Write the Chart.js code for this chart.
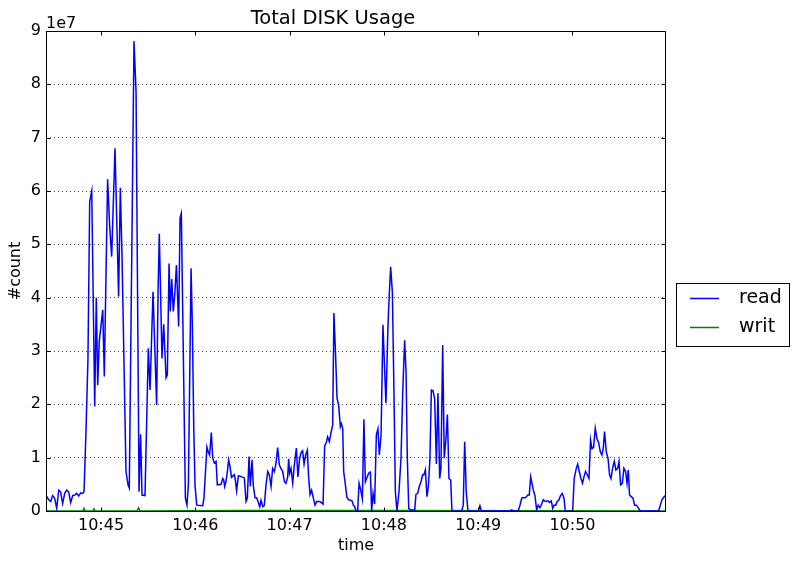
<!DOCTYPE html>
<html>
<head>
<meta charset="utf-8">
<title>Total DISK Usage</title>
<script src="https://cdn.jsdelivr.net/npm/chart.js@4.4.1/dist/chart.umd.min.js"></script>
<style>
    html, body { margin: 0; padding: 0; background: #fff; }
    #wrap { width: 799px; height: 564px; }
</style>
</head>
<body>
<div id="wrap"><canvas id="disk-chart" width="799" height="564"></canvas></div>
<script>
// Times are seconds after 10:44:00, values are in units of 1e7 counts
const readTimes = [
    25.0, 26.7, 28.0, 29.2, 30.5, 31.8, 33.1, 34.3, 35.6, 36.9, 38.2, 39.4, 40.7, 42.0, 43.3, 44.5, 45.8, 47.1, 48.3, 49.2,
    50.5, 51.7, 52.8, 54.1, 56.0, 57.0, 57.9, 58.9, 61.1, 62.1, 64.2, 65.5, 66.8, 68.9, 71.2, 72.3, 73.4, 75.9, 77.2, 78.0,
    81.0, 82.3, 84.2, 85.2, 86.1, 88.0, 90.1, 91.2, 93.1, 95.4, 96.3, 97.1, 98.8, 99.9, 101.4, 102.2,
    103.3, 104.1, 105.0, 106.0, 106.9, 108.0, 109.4, 110.3, 111.1, 113.7, 114.7, 115.6, 117.3, 118.1, 119.0, 119.8, 120.9,
    124.7, 125.5, 127.4, 128.3, 129.1, 130.2, 131.1, 132.1, 133.2, 134.0, 136.4, 137.4, 138.1, 138.7, 139.5, 140.4, 141.2,
    142.1, 143.0, 144.8, 145.5, 146.3, 147.4, 149.7, 151.2, 152.3, 153.1, 154.2, 155.0, 156.1, 156.9, 158.0, 159.0, 159.9,
    161.0, 161.8, 162.9, 163.9, 165.0, 166.1, 167.1, 168.2, 169.2, 170.3, 171.4, 172.4, 173.5, 174.5, 175.6, 176.7, 177.7,
    178.8, 179.4,
    180.0, 180.9, 182.0, 183.0, 184.3, 185.3, 186.4, 187.5, 188.3, 189.2, 190.2, 191.3, 192.1, 193.0, 194.0, 195.1, 196.2,
    197.2, 199.3, 201.3, 202.3, 203.4, 204.2, 205.3, 206.3, 207.4, 208.2, 209.1, 210.2, 211.2, 212.3, 212.9, 213.8, 214.4,
    215.5, 216.5, 217.6, 219.7, 220.6, 221.4, 222.3, 223.3, 224.2, 225.2, 226.3, 227.3, 228.2, 230.3, 231.4, 232.2, 233.1,
    234.1, 235.2, 236.2, 237.1, 238.2, 239.4, 240.5, 241.3, 242.6, 243.5, 244.3, 245.4, 246.4, 247.3, 248.3, 249.6, 250.9,
    252.0, 253.2, 254.1, 254.9, 255.8, 256.8,
    259.6, 260.4, 261.5, 262.5, 263.6, 264.7, 265.5, 266.4, 267.4, 268.3, 269.3, 270.2, 271.2, 272.3, 273.4, 274.4, 275.5,
    276.3, 277.4, 278.4, 279.5, 280.4, 281.4, 282.5, 283.3, 289.5, 290.5, 291.4, 292.4, 293.5, 300.1, 301.1, 302.0, 320.2,
    321.3, 322.4, 325.5, 326.6, 327.7, 328.3, 330.0, 331.7, 332.5, 333.4,
    335.0, 336.1, 337.2, 338.2, 339.3, 340.4, 341.4, 342.3, 343.3, 344.4, 345.4, 346.5, 347.4, 348.2, 349.3, 350.3, 351.4,
    352.4, 353.5, 354.6, 355.4, 360.1, 361.1, 362.4, 363.3, 364.3, 365.4, 366.4, 367.3, 368.3, 369.4, 370.5, 371.5, 372.4,
    373.4, 374.5, 375.6, 376.6, 377.7, 378.7, 379.6, 380.4, 381.5, 382.6, 383.6, 384.5, 385.5, 386.6, 387.6, 388.7, 389.6,
    390.6, 391.7, 392.7, 393.8, 394.7, 395.5, 396.3, 397.4, 398.5, 399.5, 400.6, 402.1, 403.1, 414.8, 415.9, 416.9, 418.4,
    419.5
];
const readValues = [
    0.30, 0.21, 0.18, 0.29, 0.24, 0.05, 0.39, 0.36, 0.14, 0.33, 0.39, 0.36, 0.16, 0.29, 0.30, 0.33, 0.28, 0.34, 0.33, 0.36,
    1.55, 2.86, 5.80, 6.00, 1.96, 4.00, 2.36, 3.18, 3.77, 2.52, 6.22, 5.36, 4.77, 6.80, 4.02, 6.06, 4.74, 0.74, 0.49, 0.43,
    8.81, 7.86, 0.36, 1.44, 0.30, 0.29, 3.05, 2.27, 4.11, 1.99, 4.10, 5.20, 2.86, 3.50, 2.50, 2.55,
    4.64, 3.74, 4.35, 3.74, 4.05, 4.61, 3.46, 5.49, 5.58, 0.24, 0.11, 0.50, 4.55, 3.50, 1.60, 0.49, 0.11,
    0.10, 0.24, 1.20, 1.10, 1.05, 1.47, 0.99, 0.90, 0.93, 0.49, 0.50, 0.61, 0.58, 0.46, 0.55, 0.74, 0.96,
    0.83, 0.63, 0.68, 0.58, 0.38, 0.66, 0.64, 0.62, 0.18, 0.24, 1.02, 0.46, 0.96, 0.48, 0.25, 0.25, 0.18,
    0.08, 0.20, 0.08, 0.10, 0.49, 0.74, 0.68, 0.46, 0.80, 0.74, 0.90, 1.19, 0.86, 0.80, 0.74, 0.55, 0.52,
    0.64, 0.98,
    0.71, 0.80, 0.52, 0.86, 1.18, 0.64, 0.99, 1.11, 1.13, 0.88, 1.05, 1.14, 0.64, 0.31, 0.39, 0.24, 0.11,
    0.18, 0.18, 0.13, 1.22, 1.29, 1.39, 1.30, 1.46, 1.61, 3.71, 3.05, 2.11, 1.99, 1.58, 1.64, 1.55, 0.74,
    0.49, 0.25, 0.21, 0.19, 0.11, 0.08, 0.00, 0.00, 0.52, 0.40, 0.23, 1.72, 0.55, 0.71, 0.73, 0.00, 0.33,
    0.13, 1.43, 1.54, 1.05, 1.43, 3.49, 2.63, 2.02, 3.49, 4.10, 4.58, 4.10, 2.24, 0.36, 0.00, 0.36, 1.00,
    2.24, 3.20, 2.60, 1.00, 0.05, 0.02,
    0.02, 0.31, 0.33, 0.46, 0.55, 0.68, 0.68, 0.77, 0.27, 0.46, 0.99, 2.27, 2.26, 2.11, 0.88, 2.21, 0.61,
    0.80, 3.11, 0.99, 1.36, 1.81, 0.61, 0.58, 0.00, 0.00, 0.11, 1.30, 0.36, 0.00, 0.00, 0.10, 0.00, 0.00,
    0.02, 0.00, 0.00, 0.11, 0.24, 0.25, 0.25, 0.30, 0.30, 0.64,
    0.40, 0.29, 0.02, 0.11, 0.06, 0.13, 0.21, 0.19, 0.18, 0.19, 0.16, 0.19, 0.05, 0.11, 0.11, 0.18, 0.21,
    0.29, 0.33, 0.24, 0.00, 0.00, 0.61, 0.80, 0.88, 0.74, 0.61, 0.52, 0.64, 0.74, 0.68, 0.61, 1.33, 1.17,
    1.19, 1.55, 1.35, 1.29, 1.11, 1.05, 1.18, 1.49, 1.11, 0.99, 0.68, 0.61, 0.80, 0.93, 0.77, 0.80, 0.93,
    0.49, 0.52, 0.80, 0.74, 0.52, 0.77, 0.30, 0.27, 0.24, 0.11, 0.11, 0.05, 0.00, 0.00, 0.11, 0.21, 0.27,
    0.30
];
const writTimes = [25.0, 48.5, 49.2, 50.0, 54.8, 55.5, 56.3, 83.0, 83.9, 84.8, 150.0, 250.0, 419.5];
const writValues = [0.00, 0.00, 0.05, 0.00, 0.00, 0.04, 0.00, 0.00, 0.06, 0.00, 0.01, 0.01, 0.00];

const tickTimes = [60, 120, 180, 240, 300, 360];
const tickLabels = ['10:45', '10:46', '10:47', '10:48', '10:49', '10:50'];
const yTicks = [0, 1, 2, 3, 4, 5, 6, 7, 8, 9];
const SCALE = 1e7;
const FONT = 'DejaVu Sans';

function toPoints(times, values) {
    return times.map((t, i) => ({ x: t, y: values[i] * SCALE }));
}

// Frame, inward ticks, offset text and the outside legend, drawn like matplotlib
const framePlugin = {
    id: 'frame',
    afterDraw(chart) {
        const ctx = chart.ctx;
        const area = chart.chartArea;
        const xs = chart.scales.x;
        const ys = chart.scales.y;
        const left = Math.round(area.left) + 0.5;
        const right = Math.round(area.right) - 0.5;
        const top = Math.round(area.top) + 0.5;
        const bottom = Math.round(area.bottom) + 0.5;
        ctx.save();
        ctx.strokeStyle = '#000';
        ctx.lineWidth = 1;
        ctx.beginPath();
        tickTimes.forEach(t => {
            const px = Math.round(xs.getPixelForValue(t)) + 0.5;
            ctx.moveTo(px, bottom);
            ctx.lineTo(px, bottom - 4);
            ctx.moveTo(px, top);
            ctx.lineTo(px, top + 4);
        });
        yTicks.forEach(v => {
            const py = Math.round(ys.getPixelForValue(v * SCALE)) + 0.5;
            ctx.moveTo(left, py);
            ctx.lineTo(left + 4, py);
            ctx.moveTo(right, py);
            ctx.lineTo(right - 4, py);
        });
        ctx.stroke();
        ctx.strokeRect(left, top, right - left, bottom - top);

        ctx.fillStyle = '#000';
        ctx.font = '16px "' + FONT + '"';
        ctx.textAlign = 'left';
        ctx.textBaseline = 'alphabetic';
        ctx.fillText('1e7', area.left, area.top - 3);

        // legend box
        const lx = 676.5, ly = 283.5, lw = 113, lh = 63;
        ctx.fillStyle = '#fff';
        ctx.fillRect(lx, ly, lw, lh);
        ctx.strokeRect(lx, ly, lw, lh);
        ctx.font = '19px "' + FONT + '"';
        ctx.textBaseline = 'middle';
        chart.data.datasets.forEach((ds, i) => {
            const y = 298.5 + i * 29;
            ctx.strokeStyle = ds.borderColor;
            ctx.lineWidth = ds.borderWidth;
            ctx.beginPath();
            ctx.moveTo(690, y);
            ctx.lineTo(719, y);
            ctx.stroke();
            ctx.fillStyle = '#000';
            ctx.fillText(ds.label, 739, y);
        });
        ctx.restore();
    }
};

const ctx = document.getElementById('disk-chart').getContext('2d');
const diskChart = new Chart(ctx, {
    type: 'line',
    data: {
        datasets: [
            {
                label: 'read',
                data: toPoints(readTimes, readValues),
                borderColor: '#0000ff',
                borderWidth: 1.5,
                pointRadius: 0,
                tension: 0,
                fill: false
            },
            {
                label: 'writ',
                data: toPoints(writTimes, writValues),
                borderColor: '#008000',
                borderWidth: 1.5,
                pointRadius: 0,
                tension: 0,
                fill: false
            }
        ]
    },
    options: {
        responsive: false,
        animation: false,
        events: [],
        layout: { padding: { left: 0, right: 133, top: 0, bottom: 0 } },
        plugins: {
            legend: { display: false },
            tooltip: { enabled: false },
            title: {
                display: true,
                text: 'Total DISK Usage',
                color: '#000',
                font: { family: FONT, size: 19.5, weight: 'normal', lineHeight: 1.2 },
                padding: { top: 7, bottom: 0.6 }
            }
        },
        scales: {
            x: {
                type: 'linear',
                min: readTimes[0],
                max: readTimes[readTimes.length - 1],
                afterBuildTicks: function(scale) {
                    scale.ticks = tickTimes.map(v => ({ value: v }));
                },
                afterFit: function(scale) {
                    scale.height = 53;
                },
                ticks: {
                    autoSkip: false,
                    maxRotation: 0,
                    color: '#000',
                    padding: 5,
                    font: { family: FONT, size: 16 },
                    callback: function(value) {
                        return tickLabels[tickTimes.indexOf(value)];
                    }
                },
                grid: { display: false, drawTicks: false },
                border: { display: false },
                title: {
                    display: true,
                    text: 'time',
                    color: '#000',
                    font: { family: FONT, size: 16 },
                    padding: { top: 0, bottom: 9 }
                }
            },
            y: {
                type: 'linear',
                min: 0,
                max: 9 * SCALE,
                afterBuildTicks: function(scale) {
                    scale.ticks = yTicks.map(v => ({ value: v * SCALE }));
                },
                afterFit: function(scale) {
                    scale.width = 46;
                },
                ticks: {
                    color: '#000',
                    padding: 5,
                    font: { family: FONT, size: 16 },
                    callback: function(value) {
                        return String(Math.round(value / SCALE));
                    }
                },
                grid: { color: '#000', lineWidth: 0.7, drawTicks: false },
                border: { display: false, dash: [1, 3] },
                title: {
                    display: true,
                    text: '#count',
                    color: '#000',
                    font: { family: FONT, size: 16 },
                    padding: { top: 6, bottom: 0 }
                }
            }
        }
    },
    plugins: [framePlugin]
});
</script>
</body>
</html>
